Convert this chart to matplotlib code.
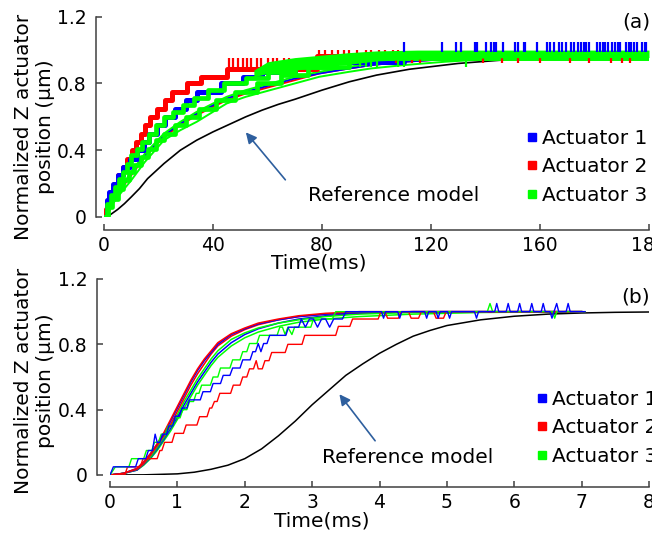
import numpy as np
import matplotlib.pyplot as plt
from matplotlib.lines import Line2D

plt.rcParams['font.family'] = 'DejaVu Sans'

# %% data, panel (a)  (time axis 0..200 as drawn, last tick labelled 180)
ref_a_t = [0, 2, 5, 7.5, 10, 13, 16, 22, 28, 34, 40, 46, 52, 58, 64, 70, 80, 90, 100, 112, 130, 150, 165, 182, 200]
ref_a_v = [0, 0.01, 0.045, 0.08, 0.12, 0.17, 0.23, 0.32, 0.4, 0.46, 0.51, 0.555, 0.6, 0.64, 0.675, 0.705,
           0.76, 0.81, 0.85, 0.885, 0.92, 0.945, 0.96, 0.97, 0.98]

# staircases (steps-post)
red_a_t = [0, 0.7, 1.5, 2.5, 3.7, 5.2, 6.8, 8.5, 10.2, 11.8, 13.4, 15.0, 16.8, 19.3, 22.3, 25.0, 30.5, 35.5, 45.0, 78.0, 111.0]
red_a_v = [0.0, 0.05, 0.1, 0.15, 0.2, 0.25, 0.3, 0.35, 0.4, 0.45, 0.5, 0.55, 0.6, 0.65, 0.7, 0.75, 0.8, 0.84, 0.885, 0.965, 0.965]

blue_a_t = [0, 1.0, 2.0, 3.3, 5.0, 7.0, 9.5, 12.0, 14.5, 16.5, 19.5, 22.5, 26.0, 30.0, 34.0, 43.0, 51.0, 58.0, 70.0, 110.0]
blue_a_v = [0, 0.1, 0.15, 0.2, 0.25, 0.3, 0.35, 0.4, 0.45, 0.5, 0.55, 0.6, 0.65, 0.7, 0.75, 0.8, 0.84, 0.87, 0.93, 0.97]

green_a1_t = [0, 1.0, 2.5, 4.0, 5.5, 7.0, 8.5, 10.0, 12.0, 14.0, 16.5, 19.0, 22.0, 25.5, 29.0, 33.0, 38.0, 44.0, 52.0, 60.0, 70.0, 85.0, 200]
green_a1_v = [0, 0.08, 0.13, 0.18, 0.23, 0.27, 0.32, 0.37, 0.41, 0.45, 0.5, 0.55, 0.6, 0.63, 0.67, 0.71, 0.76, 0.8, 0.83, 0.87, 0.9, 0.95, 0.97]
green_a2_t = [0, 1.5, 3.0, 5.0, 7.0, 9.0, 11.0, 13.5, 16.0, 19.0, 22.0, 26.0, 30.0, 35.0, 41.0, 48.0, 56.0, 65.0, 75.0, 90.0, 200]
green_a2_v = [0, 0.06, 0.11, 0.17, 0.22, 0.27, 0.31, 0.36, 0.41, 0.46, 0.5, 0.55, 0.6, 0.65, 0.7, 0.75, 0.8, 0.85, 0.9, 0.95, 0.97]

# smoother runs
smooth_a_t = [0, 2, 5, 10, 15, 22, 28, 34, 40, 45, 52, 61, 70, 79, 90, 98, 110, 125, 140, 160, 180, 200]
green_as1_v = [0, 0.05, 0.12, 0.22, 0.33, 0.46, 0.52, 0.57, 0.63, 0.68, 0.72, 0.76, 0.8, 0.84, 0.87, 0.89, 0.91, 0.93, 0.945, 0.955, 0.965, 0.97]
green_as2_v = [0, 0.07, 0.15, 0.27, 0.38, 0.5, 0.57, 0.63, 0.68, 0.72, 0.76, 0.8, 0.84, 0.87, 0.9, 0.92, 0.94, 0.95, 0.96, 0.97, 0.975, 0.98]
red_as1_v = [0, 0.06, 0.14, 0.25, 0.36, 0.48, 0.55, 0.61, 0.66, 0.7, 0.74, 0.78, 0.82, 0.86, 0.89, 0.91, 0.93, 0.945, 0.955, 0.965, 0.97, 0.975]
blue_as1_v = [0, 0.065, 0.145, 0.26, 0.37, 0.49, 0.56, 0.62, 0.67, 0.71, 0.75, 0.79, 0.83, 0.86, 0.89, 0.91, 0.93, 0.945, 0.955, 0.965, 0.97, 0.975]

# plateau band and jitter spikes
band_t = [55, 60, 70, 80, 90, 100, 115, 130, 150, 200]
band_lo = [0.84, 0.86, 0.88, 0.9, 0.915, 0.935, 0.945, 0.95, 0.955, 0.955]
band_hi = [0.88, 0.93, 0.955, 0.97, 0.985, 0.995, 1.0, 1.0, 1.0, 1.0]

red_spk1_t = [46, 47.5, 49, 51, 52.5, 54, 56, 57.5, 60, 62, 63.5, 66, 68, 71, 74, 76]
red_spk1_lo, red_spk1_hi = 0.88, 0.95
red_spk2_t = [79, 81, 83.5, 86, 88, 90, 93, 96, 98, 101, 103, 106, 108]
red_spk2_lo, red_spk2_hi = 0.95, 1.0
red_spk3_t = [107, 113, 116, 139, 146, 152, 160, 171, 178, 186, 190, 193]
red_spk3_lo, red_spk3_hi = 0.92, 0.96
blue_spk_t = [110, 124, 129, 131, 136, 137, 140, 142, 143, 144, 146.5, 151, 152, 154, 154.5, 159, 162.5, 163.5,
              165, 167, 168, 169.5, 171.5, 172.5, 174, 175, 176, 177, 178, 181, 182, 183, 184, 185, 186.5,
              187.5, 188.5, 189.5, 191.5, 192.5, 193.5, 194.5, 195.5, 197.5, 198.5, 199]
blue_spk_lo, blue_spk_hi = 0.99, 1.05
green_spk_t = [94, 96, 98, 100, 108, 110, 133]
green_spk_lo, green_spk_hi = 0.9, 0.95

xt_a = [0, 40, 80, 120, 160, 200]
xt_a_labels = ['0', '40', '80', '120', '160', '180']

# %% data, panel (b)
ref_b_t = [0, 0.5, 1.0, 1.25, 1.5, 1.75, 2.0, 2.25, 2.5, 2.75, 3.0, 3.25, 3.5, 3.75, 4.0, 4.25, 4.5, 4.75, 5.0,
           5.5, 6.0, 6.5, 7.0, 7.5, 8.0]
ref_b_v = [0, 0.001, 0.007, 0.017, 0.035, 0.06, 0.1, 0.16, 0.24, 0.33, 0.43, 0.52, 0.61, 0.68, 0.745, 0.8, 0.85,
           0.885, 0.915, 0.95, 0.972, 0.985, 0.992, 0.996, 0.998]

smooth_b_t = [0, 0.2, 0.4, 0.5, 0.6, 0.7, 0.8, 0.9, 1.0, 1.1, 1.2, 1.3, 1.4, 1.5, 1.6, 1.8, 2.0, 2.2, 2.5, 2.8,
              3.2, 3.7, 4.5, 5.5, 7.0]
red_bs1_v = [0, 0.01, 0.04, 0.08, 0.13, 0.19, 0.26, 0.34, 0.42, 0.5, 0.58, 0.65, 0.71, 0.76, 0.81, 0.865, 0.9,
             0.93, 0.955, 0.975, 0.99, 1.0, 1.0, 1.0, 1.0]
blue_bs1_v = [0, 0.01, 0.04, 0.08, 0.13, 0.19, 0.25, 0.33, 0.41, 0.49, 0.57, 0.64, 0.7, 0.75, 0.8, 0.86, 0.895,
              0.925, 0.95, 0.97, 0.985, 0.995, 1.0, 1.0, 1.0]
red_bs2_v = [0, 0.01, 0.035, 0.07, 0.12, 0.18, 0.24, 0.31, 0.39, 0.47, 0.55, 0.62, 0.68, 0.74, 0.79, 0.85, 0.89,
             0.92, 0.95, 0.97, 0.985, 0.995, 1.0, 1.0, 1.0]
green_bs1_v = [0, 0.01, 0.035, 0.07, 0.11, 0.17, 0.23, 0.3, 0.37, 0.45, 0.52, 0.59, 0.65, 0.71, 0.76, 0.83, 0.87,
               0.9, 0.93, 0.95, 0.97, 0.985, 0.995, 1.0, 1.0]
green_bs2_v = [0, 0.01, 0.03, 0.06, 0.1, 0.15, 0.21, 0.27, 0.34, 0.41, 0.48, 0.55, 0.61, 0.67, 0.72, 0.79, 0.84,
               0.875, 0.91, 0.935, 0.955, 0.97, 0.985, 0.995, 1.0]
blue_bs2_v = [0, 0.01, 0.03, 0.065, 0.105, 0.16, 0.22, 0.285, 0.355, 0.43, 0.5, 0.57, 0.63, 0.69, 0.74, 0.81,
              0.86, 0.895, 0.93, 0.955, 0.975, 0.99, 1.0, 1.0, 1.0]

# quantized runs (vertices)
red_b_t = [0, 0.22, 0.26, 0.45, 0.49, 0.7, 0.74, 0.77, 0.81, 0.92, 0.96, 1.09, 1.13, 1.29, 1.33, 1.44, 1.48, 1.51,
           1.55, 1.59, 1.63, 1.79, 1.83, 1.93, 1.97, 2.03, 2.07, 2.13, 2.17, 2.2, 2.26, 2.3, 2.36, 2.4, 2.6, 2.64,
           2.85, 2.89, 3.35, 3.39, 3.56, 3.6, 3.98, 4.02, 4.08, 4.12, 4.28, 4.32, 4.43, 4.47, 4.58, 4.62, 4.8,
           4.84, 4.95, 4.99, 7.05]
red_b_v = [0, 0, 0.05, 0.05, 0.1, 0.1, 0.15, 0.15, 0.2, 0.2, 0.255, 0.255, 0.306, 0.306, 0.357, 0.357, 0.41, 0.41,
           0.45, 0.45, 0.5, 0.5, 0.55, 0.55, 0.6, 0.6, 0.65, 0.65, 0.7, 0.65, 0.65, 0.7, 0.7, 0.75, 0.75, 0.8,
           0.8, 0.855, 0.855, 0.91, 0.91, 0.955, 0.955, 1.0, 1.0, 0.96, 0.96, 1.0, 1.0, 0.96, 0.96, 1.0, 1.0,
           0.96, 0.96, 1.0, 1.0]

blue_b_t = [0, 0.05, 0.38, 0.42, 0.53, 0.57, 0.63, 0.67, 0.7, 0.74, 0.78, 0.84, 0.87, 0.93, 0.97, 1.03, 1.07,
            1.14, 1.18, 1.34, 1.38, 1.49, 1.53, 1.64, 1.68, 1.78, 1.82, 1.93, 1.97, 2.08, 2.12, 2.16, 2.2, 2.24,
            2.28, 2.33, 2.37, 2.61, 2.65, 2.8, 2.84, 2.9, 2.96, 3.02, 3.08, 3.14, 3.2, 3.26, 3.32, 3.45, 3.5,
            4.03, 4.06, 4.09, 4.27, 4.3, 4.33, 4.67, 4.7, 4.73, 4.84, 4.87, 4.9, 5.01, 5.04, 5.07, 5.41, 5.44,
            5.47, 5.71, 5.74, 5.77, 5.88, 5.91, 5.94, 6.05, 6.08, 6.11, 6.23, 6.26, 6.29, 6.4, 6.43, 6.46, 6.53,
            6.56, 6.59, 6.63, 6.66, 6.77, 6.8, 6.83, 7.05]
blue_b_v = [0, 0.05, 0.05, 0.1, 0.1, 0.15, 0.15, 0.25, 0.2, 0.2, 0.25, 0.25, 0.3, 0.3, 0.36, 0.36, 0.41,
            0.41, 0.46, 0.46, 0.51, 0.51, 0.56, 0.56, 0.61, 0.61, 0.655, 0.655, 0.705, 0.705, 0.755, 0.755, 0.805,
            0.755, 0.805, 0.805, 0.855, 0.855, 0.905, 0.905, 0.955, 0.905, 0.955, 0.955, 0.905, 0.955, 0.955,
            0.905, 0.955, 0.955, 1.0, 1.0, 0.96, 1.0, 1.0, 0.96, 1.0, 1.0, 0.96, 1.0, 1.0, 0.96, 1.0, 1.0,
            0.96, 1.0, 1.0, 0.96, 1.0, 1.0, 1.05, 1.0, 1.0, 1.05, 1.0, 1.0, 1.05, 1.0, 1.0, 1.05, 1.0, 1.0,
            1.05, 1.0, 1.0, 0.96, 1.0, 1.05, 1.0, 1.0, 1.05, 1.0, 1.0]

green_b_t = [0, 0.08, 0.28, 0.32, 0.5, 0.54, 0.62, 0.66, 0.72, 0.76, 0.82, 0.86, 0.93, 0.97, 1.04, 1.08, 1.14,
             1.18, 1.24, 1.28, 1.32, 1.36, 1.49, 1.53, 1.6, 1.64, 1.78, 1.82, 1.93, 1.97, 2.03, 2.07, 2.18, 2.22,
             2.48, 2.52, 2.56, 2.6, 2.64, 2.7, 2.74, 2.98, 3.02, 3.3, 3.35, 5.6, 5.64, 5.68, 6.57, 6.6, 6.63, 7.05]
green_b_v = [0, 0.05, 0.05, 0.1, 0.1, 0.15, 0.15, 0.2, 0.2, 0.25, 0.25, 0.3, 0.3, 0.35, 0.35, 0.4, 0.4, 0.45,
             0.45, 0.5, 0.5, 0.55, 0.55, 0.6, 0.6, 0.655, 0.655, 0.705, 0.705, 0.755, 0.755, 0.805, 0.805, 0.855,
             0.855, 0.905, 0.905, 0.86, 0.905, 0.86, 0.905, 0.905, 0.955, 0.955, 1.0, 1.0, 1.05, 1.0, 1.0, 0.96,
             1.0, 1.0]

yt = [0, 0.4, 0.8, 1.2]
yt_labels = ['0', '0.4', '0.8', '1.2']
xt_b = [0, 1, 2, 3, 4, 5, 6, 7, 8]

# arrow / text anchors (data coords)
arrow_a = {'head': (51.4, 0.52), 'tail': (67.2, 0.21), 'text': (75, 0.126)}
arrow_b = {'head': (3.38, 0.508), 'tail': (3.96, 0.196), 'text': (3.15, 0.11)}

RED, BLUE, GREEN = '#ff0000', '#0000ff', '#00ff00'
ARROW = '#2e5f9e'
SPINE = '#404040'
FS = 14.5
TFS = 13.5


def style(ax, left_off, bottom_off):
    for s in ['top', 'right']:
        ax.spines[s].set_visible(False)
    ax.spines['left'].set_position(('outward', left_off))
    ax.spines['bottom'].set_position(('outward', bottom_off))
    for s in ['left', 'bottom']:
        ax.spines[s].set_color(SPINE)
        ax.spines[s].set_linewidth(1.1)
    ax.tick_params(direction='in', length=4.5, width=1.1, color=SPINE, labelsize=TFS)
    ax.tick_params(axis='y', pad=7)
    ax.tick_params(axis='x', pad=4)
    ax.set_yticks(yt, yt_labels)
    ax.set_ylim(0, 1.2)


def legend(ax, x, y):
    handles = [Line2D([], [], marker='s', ls='none', color=c, markersize=6, label=l)
               for c, l in [(BLUE, 'Actuator 1'), (RED, 'Actuator 2'), (GREEN, 'Actuator 3')]]
    ax.legend(handles=handles, loc='upper left', bbox_to_anchor=(x / 652, 1 - y / 540),
              bbox_transform=fig.transFigure, frameon=False, fontsize=FS, handlelength=0.6,
              handletextpad=0.2, labelspacing=0.47, borderpad=0, borderaxespad=0)


fig = plt.figure(figsize=(6.52, 5.4), dpi=100)

# ----- (a) -----
ax = fig.add_axes([104 / 652, 1 - 217 / 540, 545 / 652, 200.3 / 540])
style(ax, 5.8, 9.4)
ax.set_xlim(0, 200)
ax.set_xticks(xt_a, xt_a_labels)

ax.plot(ref_a_t, ref_a_v, color='k', lw=1.2, zorder=2)
for v, c in [(red_as1_v, RED), (blue_as1_v, BLUE), (green_as1_v, GREEN), (green_as2_v, GREEN)]:
    ax.plot(smooth_a_t, v, color=c, lw=1.4, zorder=3)
ax.plot(red_a_t, red_a_v, color=RED, lw=3.6, drawstyle='steps-post', zorder=3)
ax.vlines(red_spk1_t, red_spk1_lo, red_spk1_hi, color=RED, lw=1.6, zorder=3)
ax.vlines(red_spk2_t, red_spk2_lo, red_spk2_hi, color=RED, lw=1.6, zorder=3)
ax.plot(blue_a_t, blue_a_v, color=BLUE, lw=3.6, drawstyle='steps-post', zorder=4)
ax.plot(green_a1_t, green_a1_v, color=GREEN, lw=3.4, drawstyle='steps-post', zorder=5)
ax.plot(green_a2_t, green_a2_v, color=GREEN, lw=3.4, drawstyle='steps-post', zorder=5)
ax.vlines(red_spk3_t, red_spk3_lo, red_spk3_hi, color=RED, lw=1.6, zorder=5)
ax.fill_between(band_t, band_lo, band_hi, color=GREEN, lw=0, zorder=6)
ax.vlines(green_spk_t, green_spk_lo, green_spk_hi, color=GREEN, lw=1.6, zorder=6)
ax.vlines(blue_spk_t, blue_spk_lo, blue_spk_hi, color=BLUE, lw=1.6, zorder=6)

ax.annotate('', xy=arrow_a['head'], xytext=arrow_a['tail'],
            arrowprops=dict(arrowstyle='-|>', color=ARROW, lw=1.2, mutation_scale=16))
ax.text(*arrow_a['text'], 'Reference model', fontsize=FS, va='center')
ax.text(1.002, 0.974, '(a)', transform=ax.transAxes, fontsize=FS, ha='right', va='center')

ax.set_ylabel('Normalized Z actuator\nposition (µm)', fontsize=FS)
ax.yaxis.set_label_coords(-0.09, 0.449)
ax.set_xlabel('Time(ms)', fontsize=FS)
ax.xaxis.set_label_coords(0.394, -0.18)
legend(ax, 526, 129)

# ----- (b) -----
ax = fig.add_axes([110 / 652, 1 - 475 / 540, 539 / 652, 196 / 540])
style(ax, 9.4, 8.6)
ax.set_xlim(0, 8)
ax.set_xticks(xt_b)

ax.plot(ref_b_t, ref_b_v, color='k', lw=1.1, zorder=2)
for v, c in [(green_bs2_v, GREEN), (blue_bs2_v, BLUE), (green_bs1_v, GREEN), (red_bs2_v, RED),
             (blue_bs1_v, BLUE), (red_bs1_v, RED)]:
    ax.plot(smooth_b_t, v, color=c, lw=1.1, zorder=3)
ax.plot(red_b_t, red_b_v, color=RED, lw=1.0, zorder=4)
ax.plot(green_b_t, green_b_v, color=GREEN, lw=1.0, zorder=4)
ax.plot(blue_b_t, blue_b_v, color=BLUE, lw=1.0, zorder=4)

ax.annotate('', xy=arrow_b['head'], xytext=arrow_b['tail'],
            arrowprops=dict(arrowstyle='-|>', color=ARROW, lw=1.2, mutation_scale=16))
ax.text(*arrow_b['text'], 'Reference model', fontsize=FS, va='center')
ax.text(1.002, 0.908, '(b)', transform=ax.transAxes, fontsize=FS, ha='right', va='center')

ax.set_ylabel('Normalized Z actuator\nposition (µm)', fontsize=FS)
ax.yaxis.set_label_coords(-0.102, 0.48)
ax.set_xlabel('Time(ms)', fontsize=FS)
ax.xaxis.set_label_coords(0.393, -0.184)
legend(ax, 536, 390)

fig.savefig('out.png', dpi=100)
